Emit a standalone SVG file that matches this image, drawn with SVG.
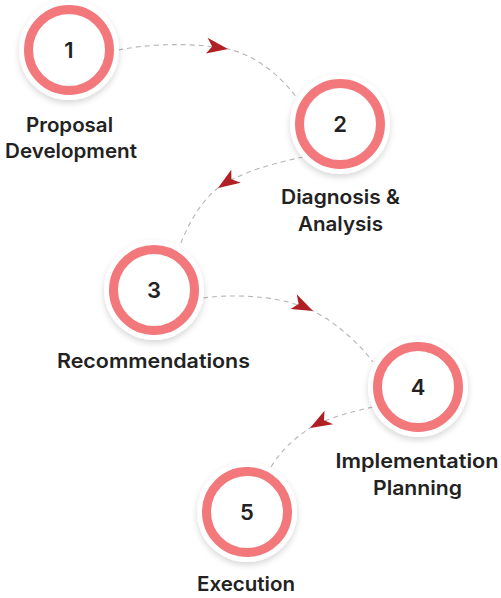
<svg xmlns="http://www.w3.org/2000/svg" width="501" height="598" viewBox="0 0 501 598">
  <defs>
    <filter id="sh" x="-30%" y="-30%" width="160%" height="160%">
      <feDropShadow dx="0" dy="3" stdDeviation="3" flood-color="#000" flood-opacity="0.16"/>
    </filter>
    <path id="arrow" d="M0,0 L-22,-8 L-16,0 L-21,8 Z" fill="#b01f24"/>
  </defs>
  <style>
    .halo { fill: #ffffff; filter: url(#sh); }
    .ring { fill: #ffffff; stroke: #f3787c; stroke-width: 9; }
    .num { font-family: Inter, "Open Sans", sans-serif; font-weight: 600; font-size: 22px; fill: #222222; text-anchor: middle; }
    .lbl { font-family: Inter, "Open Sans", sans-serif; font-weight: 600; font-size: 20px; fill: #222222; text-anchor: middle; }
    .conn { fill: none; stroke: #b5b5b5; stroke-width: 1.1; stroke-dasharray: 5 4; }
  </style>
  <rect width="501" height="598" fill="#ffffff"/>

  <g id="connectors">
    <path class="conn" d="M118,50 C160,42 200,44 228,49 C255,55 280,75 297,98"/>
    <use href="#arrow" transform="translate(228,49) rotate(9)"/>
    <path class="conn" d="M303,157 C275,163 240,172 218,188 C200,202 188,225 180,245"/>
    <use href="#arrow" transform="translate(218,188) rotate(147)"/>
    <path class="conn" d="M203,298 C240,293 285,297 313,311 C335,322 358,342 373,362"/>
    <use href="#arrow" transform="translate(313,311) rotate(26)"/>
    <path class="conn" d="M373,407 C350,412 328,418 310,428 C292,440 280,452 271,467"/>
    <use href="#arrow" transform="translate(310,428) rotate(151)"/>
  </g>

  <g id="node1">
    <circle class="halo" cx="69" cy="50" r="50"/>
    <circle class="ring" cx="69" cy="50" r="40.5"/>
    <text class="num" x="69" y="58">1</text>
    <text class="lbl" x="69.5" y="132" textLength="87" lengthAdjust="spacingAndGlyphs">Proposal</text>
    <text class="lbl" x="71" y="158" textLength="132" lengthAdjust="spacingAndGlyphs">Development</text>
  </g>
  <g id="node2">
    <circle class="halo" cx="340" cy="124" r="50"/>
    <circle class="ring" cx="340" cy="124" r="40.5"/>
    <text class="num" x="340" y="132">2</text>
    <text class="lbl" x="340.5" y="204" textLength="119" lengthAdjust="spacingAndGlyphs">Diagnosis &amp;</text>
    <text class="lbl" x="340.5" y="231" textLength="85" lengthAdjust="spacingAndGlyphs">Analysis</text>
  </g>
  <g id="node3">
    <circle class="halo" cx="154" cy="290" r="50"/>
    <circle class="ring" cx="154" cy="290" r="40.5"/>
    <text class="num" x="154" y="298">3</text>
    <text class="lbl" x="153.5" y="368" textLength="193" lengthAdjust="spacingAndGlyphs">Recommendations</text>
  </g>
  <g id="node4">
    <circle class="halo" cx="418" cy="387" r="50"/>
    <circle class="ring" cx="418" cy="387" r="40.5"/>
    <text class="num" x="418" y="395">4</text>
    <text class="lbl" x="417" y="468" textLength="163" lengthAdjust="spacingAndGlyphs">Implementation</text>
    <text class="lbl" x="417.5" y="495" textLength="89" lengthAdjust="spacingAndGlyphs">Planning</text>
  </g>
  <g id="node5">
    <circle class="halo" cx="247" cy="512" r="50"/>
    <circle class="ring" cx="247" cy="512" r="40.5"/>
    <text class="num" x="247" y="520">5</text>
    <text class="lbl" x="246" y="591" textLength="98" lengthAdjust="spacingAndGlyphs">Execution</text>
  </g>
</svg>
